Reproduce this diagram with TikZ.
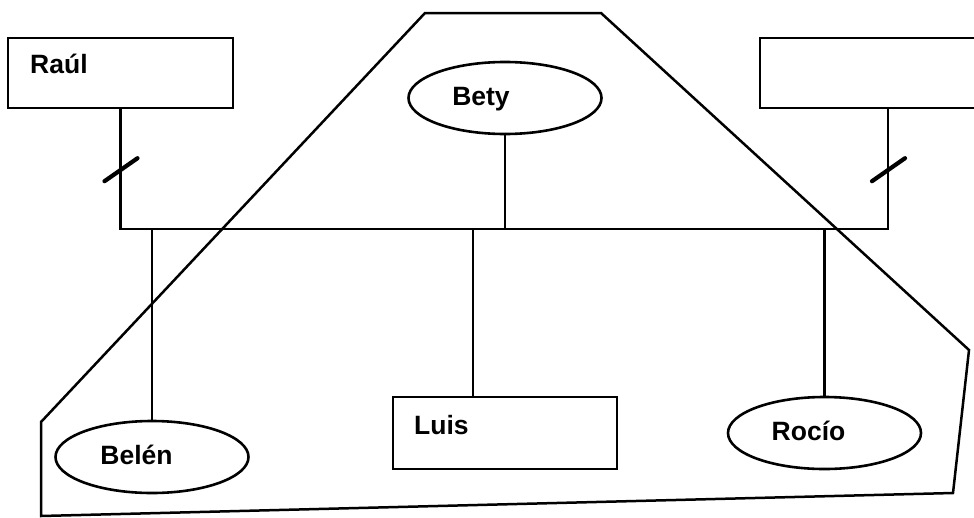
\documentclass[tikz,border=0pt]{standalone}
\usepackage{fontspec}
\setmainfont{Liberation Sans}
\usepackage{tikz}
\usetikzlibrary{shapes.geometric}

\begin{document}
\begin{tikzpicture}[x=1pt,y=-1pt,
		box/.style={draw, line width=2.8pt, rectangle, minimum width=225pt, minimum height=70pt, inner sep=0pt},
		oval/.style={draw, line width=2.6pt, ellipse, minimum width=193pt, minimum height=72pt, inner sep=0pt},
		who/.style={font=\fontsize{26.5}{30}\selectfont\bfseries, inner sep=0pt},
		link/.style={line width=2.6pt},
		slash/.style={line width=4.2pt, line cap=round}]
		\useasboundingbox (0,0) rectangle (974,517);
		\clip (0,0) rectangle (974,517);

		% Outline
		\draw[line width=2.5pt, line join=miter] (425,13) -- (601,13) -- (969,350) -- (953,493) -- (41,516) -- (41,422) -- cycle;

		% Boxes and ovals
		\node[box] (raul) at (120.5,73) {};
		\node[box, minimum width=256pt] (rbox) at (888,73) {};
		\node[oval] (bety) at (505,98) {};
		\node[oval] (belen) at (152,457) {};
		\node[box, minimum width=224pt, minimum height=72pt] (luis) at (505,433) {};
		\node[oval] (rocio) at (824.5,433) {};

		% Names
		\node[who, anchor=base west] (rault) at (30,73) {Raúl};
		\node[who, anchor=base] (betyt) at (481,105) {Bety};
		\node[who, anchor=base] (belent) at (136.5,464) {Belén};
		\node[who, anchor=base west] (luist) at (414,434) {Luis};
		\node[who, anchor=base] (rociot) at (808.5,440) {Rocío};

		% Bus
		\coordinate (busL) at (120.5,229);
		\coordinate (busR) at (888,229);
		\coordinate (luisb) at (473,229);
		\draw[link] (raul.south) -- coordinate[pos=0.5] (raulm) (busL) -- (busR) -- coordinate[pos=0.5] (rboxm) (rbox.south);
		\draw[link] (bety.south) -- (bety.south |- busL);
		\draw[link] (belen.north) -- (belen.north |- busL);
		\draw[link] (luis.north -| luisb) -- (luisb);
		\draw[link] (rocio.north) -- (rocio.north |- busL);

		% Marks
		\draw[slash] (raulm) +(-16,12) -- +(17,-11);
		\draw[slash] (rboxm) +(-16,12) -- +(17,-11);
	\end{tikzpicture}
\end{document}
